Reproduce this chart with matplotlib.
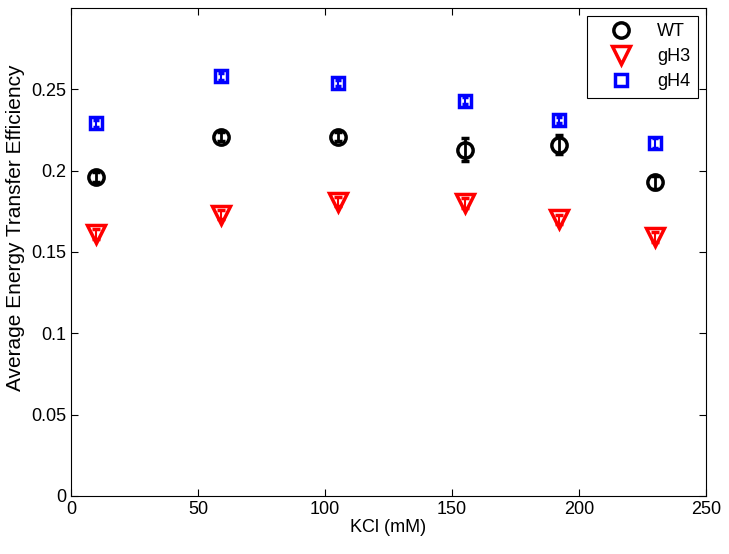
import matplotlib
matplotlib.use('Agg')
import matplotlib.pyplot as plt
from matplotlib.lines import Line2D

plt.rcParams['font.family'] = ['Liberation Sans', 'DejaVu Sans']

# KCl concentrations (mM)
kcl = [10, 59, 105, 155, 192, 230]

# Average energy transfer efficiency and errors
wt = [0.196, 0.221, 0.221, 0.213, 0.216, 0.193]
wt_err = [0.003, 0.003, 0.003, 0.007, 0.006, 0.004]
gh3 = [0.161, 0.173, 0.181, 0.180, 0.170, 0.159]
gh3_err = [0.003, 0.003, 0.003, 0.003, 0.003, 0.003]
gh4 = [0.229, 0.258, 0.254, 0.243, 0.231, 0.217]
gh4_err = [0.002, 0.002, 0.002, 0.002, 0.002, 0.003]

fig = plt.figure(figsize=(7.29, 5.54), dpi=100)
ax = fig.add_axes([71/729, 1 - 496/554, 635/729, 488/554])

ax.errorbar(kcl, wt, yerr=wt_err, fmt='o', color='black', mfc='none',
            ms=11, mew=2.5, elinewidth=2, capsize=3, capthick=2)
ax.errorbar(kcl, gh3, yerr=gh3_err, fmt='v', color='red', mfc='none',
            ms=13, mew=2.5, elinewidth=1.5, capsize=3, capthick=1.5)
ax.errorbar(kcl, gh4, yerr=gh4_err, fmt='s', color='blue', mfc='none',
            ms=9, mew=2.5, elinewidth=1.5, capsize=2, capthick=1.5)

ax.set_xlim(0, 250)
ax.set_ylim(0, 0.3)
ax.set_xticks([0, 50, 100, 150, 200, 250])
ax.set_yticks([0, 0.05, 0.1, 0.15, 0.2, 0.25])
ax.set_yticklabels(['0', '0.05', '0.1', '0.15', '0.2', '0.25'])
ax.tick_params(direction='in', top=True, right=True, labelsize=13, length=5)
ax.set_xlabel('KCl (mM)', fontsize=13, labelpad=1)
ax.set_ylabel('Average Energy Transfer Efficiency', fontsize=15)
ax.yaxis.set_label_coords(-0.073, 0.55)

# legend shows markers only
handles = [
    Line2D([], [], ls='none', marker='o', color='black', mfc='none', ms=11, mew=2.5),
    Line2D([], [], ls='none', marker='v', color='red', mfc='none', ms=13, mew=2.5),
    Line2D([], [], ls='none', marker='s', color='blue', mfc='none', ms=9, mew=2.5),
]
leg = ax.legend(handles, ['WT', 'gH3', 'gH4'], loc='upper right', fontsize=13,
                fancybox=False, edgecolor='black', framealpha=1,
                handletextpad=0.5, borderpad=0.4, labelspacing=0.45,
                handlelength=3.0, borderaxespad=0,
                bbox_to_anchor=(0.987, 0.984))
leg.get_frame().set_linewidth(0.8)

fig.savefig('out.png', dpi=100)
